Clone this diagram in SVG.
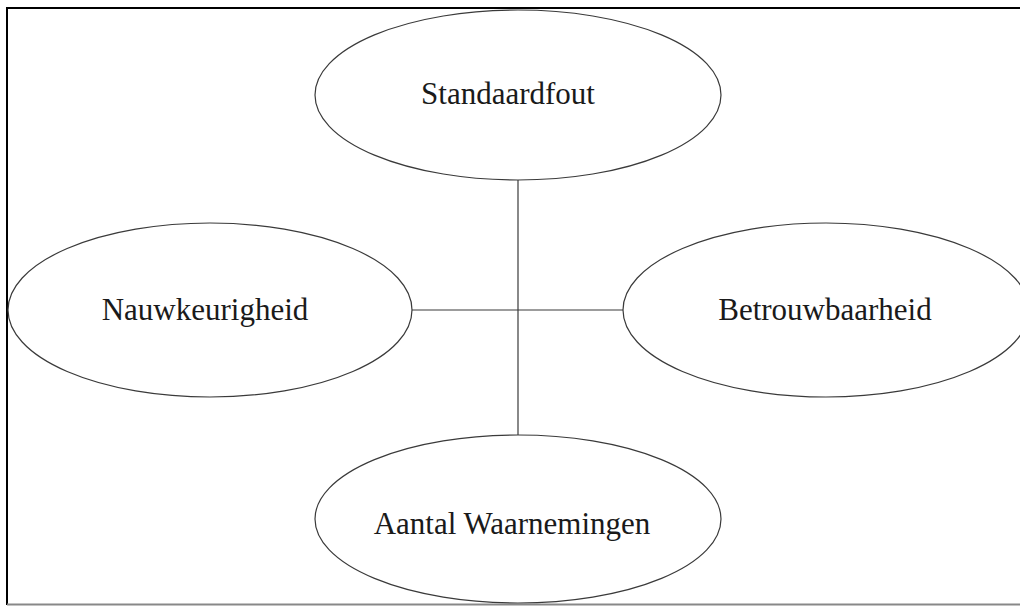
<svg xmlns="http://www.w3.org/2000/svg" width="1020" height="606" viewBox="0 0 1020 606">
  <style>
    .node ellipse { fill: #ffffff; stroke: #3a3a3a; stroke-width: 1.2; }
    .node text { font-family: 'Liberation Serif', Tinos, 'DejaVu Serif', serif; font-size: 31px; fill: #1a1a1a; text-anchor: middle; }
    .link { stroke: #3a3a3a; stroke-width: 1.2; fill: none; }
  </style>
  <rect x="0" y="0" width="1020" height="606" fill="#ffffff"/>
  <!-- frame -->
  <g id="frame">
    <line x1="7" y1="8" x2="1020" y2="8" stroke="#000" stroke-width="2"/>
    <line x1="7" y1="7" x2="7" y2="605" stroke="#000" stroke-width="2"/>
    <line x1="7" y1="604.5" x2="1020" y2="604.5" stroke="#888" stroke-width="2"/>
  </g>
  <!-- connectors -->
  <g id="connectors">
    <line class="link" x1="518" y1="180" x2="518" y2="435"/>
    <line class="link" x1="412" y1="310" x2="623" y2="310"/>
  </g>
  <g id="standaardfout" class="node">
    <ellipse cx="518" cy="95" rx="203" ry="85"/>
    <text x="508" y="104">Standaardfout</text>
  </g>
  <g id="nauwkeurigheid" class="node">
    <ellipse cx="210" cy="310" rx="202" ry="87"/>
    <text x="205" y="320">Nauwkeurigheid</text>
  </g>
  <g id="betrouwbaarheid" class="node">
    <ellipse cx="826" cy="310" rx="203" ry="87"/>
    <text x="825" y="320">Betrouwbaarheid</text>
  </g>
  <g id="aantal-waarnemingen" class="node">
    <ellipse cx="518" cy="519" rx="203" ry="84"/>
    <text x="512" y="534">Aantal Waarnemingen</text>
  </g>
</svg>
